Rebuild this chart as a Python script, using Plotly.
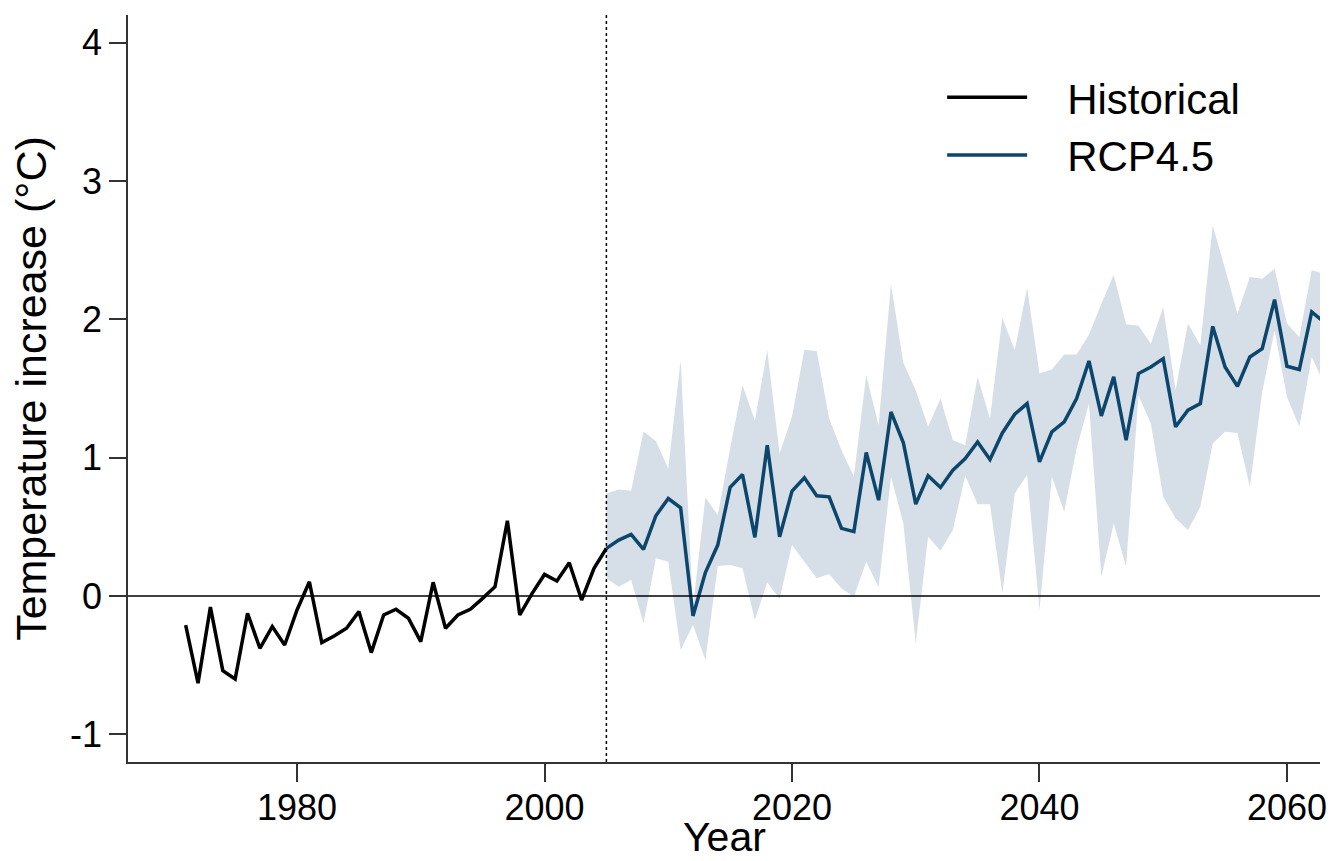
import plotly.graph_objects as go

hist_years = list(range(1971, 2006))
hist_vals = [-0.21, -0.63, -0.08, -0.54, -0.60, -0.125, -0.378, -0.221, -0.354, -0.101,
             0.103, -0.337, -0.289, -0.233, -0.113, -0.409, -0.137, -0.096, -0.161, -0.33,
             0.099, -0.233, -0.137, -0.096, -0.017, 0.067, 0.544, -0.137, 0.019, 0.156,
             0.108, 0.24, -0.029, 0.2, 0.344]

rcp_years = list(range(2005, 2064))
rcp_mean = [0.344, 0.404, 0.445, 0.337, 0.58, 0.705, 0.638, -0.144, 0.169, 0.368,
            0.785, 0.878, 0.424, 1.09, 0.428, 0.758, 0.854, 0.725, 0.717, 0.489,
            0.465, 1.037, 0.693, 1.331, 1.108, 0.664, 0.869, 0.785, 0.91, 0.994,
            1.114, 0.987, 1.179, 1.314, 1.391, 0.97, 1.187, 1.259, 1.427, 1.699,
            1.302, 1.584, 1.126, 1.608, 1.656, 1.716, 1.223, 1.343, 1.391, 1.949,
            1.656, 1.516, 1.728, 1.788, 2.142, 1.661, 1.637, 2.053, 1.98]
rcp_upper = [0.741, 0.77, 0.76, 1.19, 1.12, 0.92, 1.704, -0.08, 0.712, 0.585,
             1.066, 1.523, 1.266, 1.776, 1.03, 1.295, 1.781, 1.771, 1.283, 1.054,
             0.862, 1.596, 1.235, 2.253, 1.685, 1.487, 1.223, 1.427, 1.126, 1.09,
             1.584, 1.283, 2.012, 1.776, 2.229, 1.608, 1.637, 1.745, 1.745, 1.889,
             2.113, 2.322, 1.964, 1.954, 1.824, 2.089, 1.487, 1.969, 1.812, 2.679,
             2.366, 2.041, 2.306, 2.294, 2.366, 1.969, 1.872, 2.354, 2.33]
rcp_lower = [0.128, 0.067, 0.116, -0.197, 0.272, 0.248, -0.39, -0.209, -0.462, 0.217,
             0.224, 0.2, -0.173, 0.1, -0.02, 0.368, 0.248, 0.128, 0.159, 0.055,
             -0.005, 0.248, 0.063, 0.862, 0.525, -0.342, 0.428, 0.327, 0.477, 0.87,
             0.664, 0.664, 0.019, 0.741, 0.874, -0.101, 0.862, 0.609, 1.066, 1.391,
             0.14, 0.525, 0.212, 1.45, 1.247, 0.717, 0.561, 0.477, 0.645, 1.102,
             1.187, 1.179, 0.789, 1.475, 1.92, 1.439, 1.223, 1.728, 1.535]

x_ticks = [1980, 2000, 2020, 2040, 2060]
x_ticktext = ["1980", "2000", "2020", "2040", "2060"]
y_ticks = [-1, 0, 1, 2, 3, 4]
y_ticktext = ["-1", "0", "1", "2", "3", "4"]
split_year = 2005

BAND = "rgb(214,223,231)"
BLUE = "#0c466c"
FONT = "Liberation Sans, Arial, sans-serif"
GAP = "\u00a0\u00a0\u00a0"

fig = go.Figure()
fig.add_trace(go.Scatter(x=rcp_years, y=rcp_lower, mode="lines", line=dict(width=0, color=BAND),
                         showlegend=False, hoverinfo="skip"))
fig.add_trace(go.Scatter(x=rcp_years, y=rcp_upper, mode="lines", line=dict(width=0, color=BAND),
                         fill="tonexty", fillcolor=BAND, showlegend=False, hoverinfo="skip"))
fig.add_trace(go.Scatter(x=hist_years, y=hist_vals, mode="lines", name=GAP + "Historical",
                         line=dict(color="black", width=3.5)))
fig.add_trace(go.Scatter(x=rcp_years, y=rcp_mean, mode="lines", name=GAP + "RCP4.5",
                         line=dict(color=BLUE, width=3.5)))

fig.add_hline(y=0, line=dict(color="black", width=1.5))
fig.add_vline(x=split_year, line=dict(color="black", width=1.5, dash="dot"))

fig.add_annotation(text="Year", xref="paper", yref="paper", x=0.5, y=-0.1325,
                   xanchor="center", yanchor="bottom", showarrow=False, borderpad=0,
                   font=dict(size=41, family=FONT, color="black"))

fig.update_layout(
    width=1330, height=861,
    margin=dict(l=128, r=10, t=15, b=99),
    paper_bgcolor="white", plot_bgcolor="white",
    font=dict(family=FONT, size=36, color="black"),
    legend=dict(x=0.683, y=0.935, xanchor="left", yanchor="top", traceorder="normal",
                bgcolor="rgba(0,0,0,0)", font=dict(size=42), itemwidth=80,
                tracegroupgap=0),
    xaxis=dict(range=[1966.34, 2062.67], tickvals=x_ticks, ticktext=x_ticktext,
               ticks="outside", ticklen=18, automargin=False, ticklabelstandoff=-5,
               tickwidth=1.5, tickcolor="#333", showline=True, linecolor="#333", linewidth=1.5,
               showgrid=False, zeroline=False),
    yaxis=dict(range=[-1.2, 4.2], tickvals=y_ticks, ticktext=y_ticktext,
               ticks="outside", ticklen=17, automargin=False,
               tickwidth=1.5, tickcolor="#333", showline=True, linecolor="#333", linewidth=1.5,
               showgrid=False, zeroline=False,
               title=dict(text="Temperature increase (°C)", font=dict(size=43), standoff=10)),
)

fig.write_html("out.html")
